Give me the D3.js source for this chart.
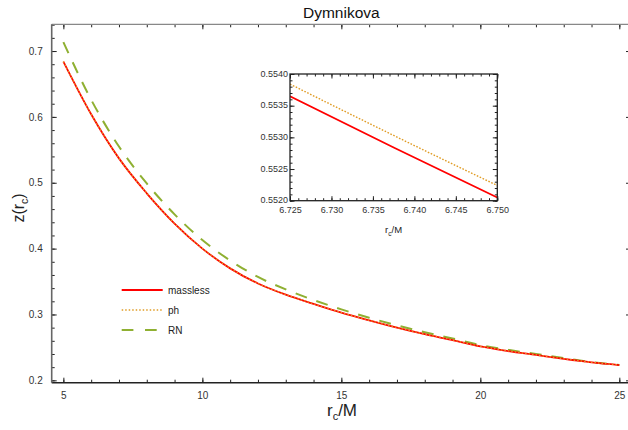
<!DOCTYPE html>
<html>
<head>
<meta charset="utf-8">
<script src="https://cdn.jsdelivr.net/npm/d3@7/dist/d3.min.js"></script>
<style>
  html, body { margin: 0; padding: 0; background: #fff; }
  svg { display: block; font-family: "Liberation Sans", Arial, sans-serif; }
</style>
</head>
<body>
<svg id="chart" width="628" height="430"></svg>
<script>
// r_c/M sample points for the main panel
const rc = [5, 6, 7, 8, 9, 10, 11, 12, 13, 14, 15, 16, 17, 18, 19, 20, 21, 22, 23, 24, 25];
// z(r_c) for each model
const zMassless = [0.684, 0.604, 0.537, 0.484, 0.438, 0.400, 0.370, 0.347, 0.330, 0.316, 0.3027,
                   0.291, 0.280, 0.270, 0.261, 0.2515, 0.2445, 0.2385, 0.2325, 0.2272, 0.2232];
const zPh       = [0.6842, 0.6042, 0.5372, 0.4842, 0.4382, 0.4002, 0.3702, 0.3472, 0.3302, 0.3162, 0.3029,
                   0.2912, 0.2802, 0.2702, 0.2612, 0.2517, 0.2447, 0.2387, 0.2327, 0.2274, 0.2234];
const zRN       = [0.7135, 0.626, 0.555, 0.499, 0.452, 0.413, 0.382, 0.357, 0.338, 0.322, 0.3077,
                   0.295, 0.2835, 0.273, 0.2635, 0.2535, 0.2463, 0.240, 0.2338, 0.2278, 0.2232];

// zoomed window near r_c/M = 6.74
const rcInset = [6.725, 6.7375, 6.75];
const zMasslessInset = [0.55365, 0.55284, 0.55205];
const zPhInset = [0.55384, 0.55303, 0.55224];

// tick labels
const xTicks = [5, 10, 15, 20, 25];
const yTicks = [0.2, 0.3, 0.4, 0.5, 0.6, 0.7];
const xTicksInset = [6.725, 6.730, 6.735, 6.740, 6.745, 6.750];
const yTicksInset = [0.5520, 0.5525, 0.5530, 0.5535, 0.5540];

const seriesNames = ["massless", "ph", "RN"];
const colors = { massless: "#ff0000", ph: "#e09c24", RN: "#8fb032" };

const svg = d3.select("#chart");

// ---------- main panel ----------
const M = { left: 51.7, right: 631, top: 24.3, bottom: 382.7 };
const x = d3.scaleLinear().domain([4.58, 25.42]).range([M.left, M.right]);
const y = d3.scaleLinear().domain([0.1964, 0.7406]).range([M.bottom, M.top]);

svg.append("defs").append("clipPath").attr("id", "mainClip")
  .append("rect").attr("x", M.left).attr("y", M.top)
  .attr("width", M.right - M.left).attr("height", M.bottom - M.top);

const minorX = d3.range(5, 26, 1);
const minorY = d3.range(0.2, 0.741, 0.02).map(v => +v.toFixed(2));

function styleAxis(g, color) {
  g.select(".domain").remove();
  g.selectAll(".tick line").attr("stroke", color);
  g.selectAll(".tick text").attr("fill", "#333").attr("font-size", 10);
}

// bottom
svg.append("g").attr("transform", `translate(0,${M.bottom})`)
  .call(d3.axisBottom(x).tickValues(minorX).tickSize(-3).tickFormat(""))
  .call(g => styleAxis(g, "#222"));
svg.append("g").attr("transform", `translate(0,${M.bottom})`)
  .call(d3.axisBottom(x).tickValues(xTicks).tickSize(-5).tickPadding(9).tickFormat(d3.format("d")))
  .call(g => styleAxis(g, "#222"));
// top
svg.append("g").attr("transform", `translate(0,${M.top})`)
  .call(d3.axisTop(x).tickValues(minorX).tickSize(-3).tickFormat(""))
  .call(g => styleAxis(g, "#222"));
svg.append("g").attr("transform", `translate(0,${M.top})`)
  .call(d3.axisTop(x).tickValues(xTicks).tickSize(-5).tickFormat(""))
  .call(g => styleAxis(g, "#222"));
// left
svg.append("g").attr("transform", `translate(${M.left},0)`)
  .call(d3.axisLeft(y).tickValues(minorY).tickSize(-3).tickFormat(""))
  .call(g => styleAxis(g, "#222"));
svg.append("g").attr("transform", `translate(${M.left},0)`)
  .call(d3.axisLeft(y).tickValues(yTicks).tickSize(-5).tickPadding(9).tickFormat(d3.format(".1f")))
  .call(g => styleAxis(g, "#222"));
// right
svg.append("g").attr("transform", `translate(${M.right},0)`)
  .call(d3.axisRight(y).tickValues(minorY).tickSize(-3).tickFormat(""))
  .call(g => styleAxis(g, "#222"));
svg.append("g").attr("transform", `translate(${M.right},0)`)
  .call(d3.axisRight(y).tickValues(yTicks).tickSize(-5).tickFormat(""))
  .call(g => styleAxis(g, "#222"));

// frame
svg.append("line").attr("x1", M.left).attr("x2", M.right).attr("y1", M.top).attr("y2", M.top)
  .attr("stroke", "#888").attr("stroke-width", 1.2);
svg.append("line").attr("x1", M.left).attr("x2", M.right).attr("y1", M.bottom).attr("y2", M.bottom)
  .attr("stroke", "#222").attr("stroke-width", 1.4);
svg.append("line").attr("x1", M.left).attr("x2", M.left).attr("y1", M.top).attr("y2", M.bottom)
  .attr("stroke", "#666").attr("stroke-width", 1.6);

const line = d3.line().x(d => x(d[0])).y(d => y(d[1])).curve(d3.curveMonotoneX);
const plot = svg.append("g").attr("clip-path", "url(#mainClip)");

plot.append("path").datum(d3.zip(rc, zRN)).attr("d", line)
  .attr("fill", "none").attr("stroke", colors.RN).attr("stroke-width", 2)
  .attr("stroke-dasharray", "12,10");
plot.append("path").datum(d3.zip(rc, zMassless)).attr("d", line)
  .attr("fill", "none").attr("stroke", colors.massless).attr("stroke-width", 1.8);
plot.append("path").datum(d3.zip(rc, zPh)).attr("d", line)
  .attr("fill", "none").attr("stroke", colors.ph).attr("stroke-width", 1.3)
  .attr("stroke-dasharray", "1.5,2");

// title and axis labels
svg.append("text").attr("x", (M.left + M.right) / 2).attr("y", 18)
  .attr("text-anchor", "middle").attr("font-size", 15.5).attr("fill", "#111").text("Dymnikova");

const xl = svg.append("text").attr("x", 342).attr("y", 416).attr("text-anchor", "middle")
  .attr("font-size", 17).attr("fill", "#222");
xl.append("tspan").text("r");
xl.append("tspan").attr("font-size", 11).attr("dy", 4).text("c");
xl.append("tspan").attr("dy", -4).text("/M");

const yl = svg.append("text").attr("transform", "translate(24,208) rotate(-90)")
  .attr("text-anchor", "middle").attr("font-size", 16).attr("fill", "#222");
yl.append("tspan").text("z(r");
yl.append("tspan").attr("font-size", 10.5).attr("dy", 4).text("c");
yl.append("tspan").attr("dy", -4).text(")");

// legend
const legendY = [290, 310, 330];
const legend = svg.append("g");
seriesNames.forEach((name, i) => {
  const ly = legendY[i];
  const l = legend.append("line").attr("x1", 121.7).attr("x2", 162.7).attr("y1", ly).attr("y2", ly)
    .attr("stroke", colors[name]);
  if (name === "massless") l.attr("stroke-width", 1.8);
  if (name === "ph") l.attr("stroke-width", 1.3).attr("stroke-dasharray", "1.5,2");
  if (name === "RN") l.attr("x2", 157).attr("stroke-width", 2).attr("stroke-dasharray", "11.7,11.6");
  legend.append("text").attr("x", 168).attr("y", ly + 3.5).attr("font-size", 10)
    .attr("fill", "#222").text(name);
});

// ---------- inset ----------
const I = { left: 290, right: 497.3, top: 74, bottom: 200.7 };
const xi = d3.scaleLinear().domain([6.725, 6.75]).range([I.left, I.right]);
const yi = d3.scaleLinear().domain([0.5520, 0.5540]).range([I.bottom, I.top]);

svg.append("rect").attr("x", I.left).attr("y", I.top)
  .attr("width", I.right - I.left).attr("height", I.bottom - I.top).attr("fill", "#fff");

const minorXi = d3.range(0, 26).map(k => +(6.725 + k * 0.001).toFixed(3));
const minorYi = d3.range(0, 21).map(k => +(0.5520 + k * 0.0001).toFixed(4));

function styleInset(g) {
  g.select(".domain").remove();
  g.selectAll(".tick line").attr("stroke", "#222");
  g.selectAll(".tick text").attr("fill", "#333").attr("font-size", 9);
}
svg.append("g").attr("transform", `translate(0,${I.bottom})`)
  .call(d3.axisBottom(xi).tickValues(minorXi).tickSize(-2.5).tickFormat("")).call(styleInset);
svg.append("g").attr("transform", `translate(0,${I.bottom})`)
  .call(d3.axisBottom(xi).tickValues(xTicksInset).tickSize(-4.5).tickPadding(5.5).tickFormat(d3.format(".3f")))
  .call(styleInset);
svg.append("g").attr("transform", `translate(0,${I.top})`)
  .call(d3.axisTop(xi).tickValues(minorXi).tickSize(-2.5).tickFormat("")).call(styleInset);
svg.append("g").attr("transform", `translate(0,${I.top})`)
  .call(d3.axisTop(xi).tickValues(xTicksInset).tickSize(-4.5).tickFormat("")).call(styleInset);
svg.append("g").attr("transform", `translate(${I.left},0)`)
  .call(d3.axisLeft(yi).tickValues(minorYi).tickSize(-2.5).tickFormat("")).call(styleInset);
svg.append("g").attr("transform", `translate(${I.left},0)`)
  .call(d3.axisLeft(yi).tickValues(yTicksInset).tickSize(-4.5).tickPadding(2).tickFormat(d3.format(".4f")))
  .call(styleInset)
  .call(g => g.selectAll(".tick text").attr("dy", "0.25em"));
svg.append("g").attr("transform", `translate(${I.right},0)`)
  .call(d3.axisRight(yi).tickValues(minorYi).tickSize(-2.5).tickFormat("")).call(styleInset);
svg.append("g").attr("transform", `translate(${I.right},0)`)
  .call(d3.axisRight(yi).tickValues(yTicksInset).tickSize(-4.5).tickFormat("")).call(styleInset);

svg.append("defs").append("clipPath").attr("id", "insetClip")
  .append("rect").attr("x", I.left).attr("y", I.top)
  .attr("width", I.right - I.left).attr("height", I.bottom - I.top);

const lineI = d3.line().x(d => xi(d[0])).y(d => yi(d[1])).curve(d3.curveNatural);
const insetPlot = svg.append("g").attr("clip-path", "url(#insetClip)");
insetPlot.append("path").datum(d3.zip(rcInset, zMasslessInset)).attr("d", lineI)
  .attr("fill", "none").attr("stroke", colors.massless).attr("stroke-width", 1.8);
insetPlot.append("path").datum(d3.zip(rcInset, zPhInset)).attr("d", lineI)
  .attr("fill", "none").attr("stroke", colors.ph).attr("stroke-width", 1.4)
  .attr("stroke-dasharray", "1.6,1.6");

svg.append("rect").attr("x", I.left).attr("y", I.top)
  .attr("width", I.right - I.left).attr("height", I.bottom - I.top)
  .attr("fill", "none").attr("stroke", "#222").attr("stroke-width", 1.3);

const xil = svg.append("text").attr("x", 393.6).attr("y", 233).attr("text-anchor", "middle")
  .attr("font-size", 9.5).attr("fill", "#222");
xil.append("tspan").text("r");
xil.append("tspan").attr("font-size", 6.5).attr("dy", 2.5).text("c");
xil.append("tspan").attr("dy", -2.5).text("/M");
</script>
</body>
</html>
